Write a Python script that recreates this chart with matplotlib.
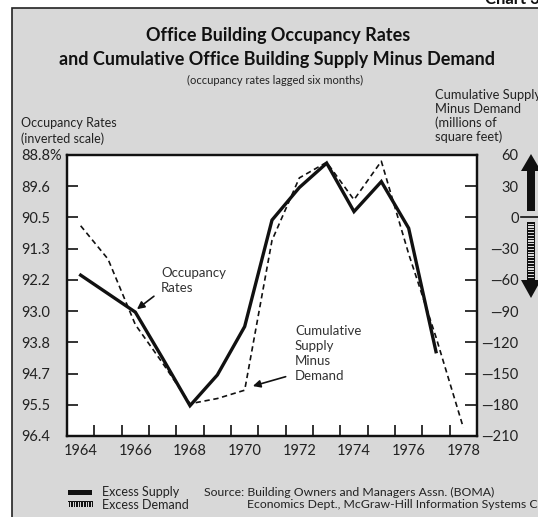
import matplotlib
matplotlib.use('Agg')
import matplotlib.pyplot as plt
import matplotlib.transforms as mtransforms
from matplotlib.patches import Rectangle, Polygon
import numpy as np

# ---------------- data ----------------
years_occ = [1964, 1965, 1966, 1967, 1968, 1969, 1970, 1971, 1972, 1973, 1974, 1975, 1976, 1977]
occupancy = [92.05, 92.55, 93.05, 94.3, 95.58, 94.75, 93.44, 90.56, 89.68, 89.02, 90.33, 89.52, 90.78, 94.12]

years_sd = [1964, 1965, 1966, 1967, 1968, 1969, 1970, 1971, 1972, 1973, 1974, 1975, 1976, 1977, 1978]
supply_minus_demand = [-8, -40, -103, -140, -179, -174, -166, -22, 38, 53, 17, 54, -35, -115, -202]

left_tick_labels = ['88.8%', '89.6', '90.5', '91.3', '92.2', '93.0', '93.8', '94.7', '95.5', '96.4']
right_ticks = [60, 30, 0, -30, -60, -90, -120, -150, -180, -210]
x_labels = ['1964', '1966', '1968', '1970', '1972', '1974', '1976', '1978']
x_label_years = [1964, 1966, 1968, 1970, 1972, 1974, 1976, 1978]

FONT = 'Lato'
TXT = '#222222'
W, H = 538, 517
fig = plt.figure(figsize=(W / 100, H / 100), dpi=100)
fig.patch.set_facecolor('white')

# background / frame in pixel coordinates
bg = fig.add_axes([0, 0, 1, 1], zorder=0)
bg.set_xlim(0, W)
bg.set_ylim(H, 0)
bg.axis('off')
bg.add_patch(Rectangle((12, 8), W, H, facecolor='#d8d8d8', edgecolor='#222222', lw=1.2))

# titles
bg.text(278, 36, 'Office Building Occupancy Rates', ha='center', va='center',
        fontsize=13, fontweight='bold', family=FONT, color='#111111')
bg.text(277, 59, 'and Cumulative Office Building Supply Minus Demand', ha='center', va='center',
        fontsize=13, fontweight='bold', family=FONT, color='#111111')
bg.text(275, 80, '(occupancy rates lagged six months)', ha='center', va='center',
        fontsize=8, family=FONT, color=TXT)
bg.text(485, 4, 'Chart 3', ha='left', va='baseline', fontsize=12, fontweight='bold',
        family=FONT, color='#111111')

# axis titles
bg.text(21, 123, 'Occupancy Rates', ha='left', va='center', fontsize=9, family=FONT, color=TXT)
bg.text(21, 139, '(inverted scale)', ha='left', va='center', fontsize=9, family=FONT, color=TXT)
for i, t in enumerate(['Cumulative Supply', 'Minus Demand', '(millions of', 'square feet)']):
    bg.text(435, 95 + i * 14, t, ha='left', va='center', fontsize=9.3, family=FONT, color=TXT)

# legend at the bottom
bg.add_patch(Rectangle((68, 489.5), 24, 5, facecolor='#111111', edgecolor='none'))
bg.add_patch(Rectangle((68, 500.5), 24, 1.8, facecolor='#111111', edgecolor='none'))
for xx in np.arange(68.5, 92, 2.6):
    bg.add_patch(Rectangle((xx, 500.5), 1.5, 6.5, facecolor='#111111', edgecolor='none'))
bg.text(102, 492, 'Excess Supply', ha='left', va='center', fontsize=9, family=FONT, color=TXT)
bg.text(102, 505, 'Excess Demand', ha='left', va='center', fontsize=9, family=FONT, color=TXT)
bg.text(204, 492, 'Source: Building Owners and Managers Assn. (BOMA)', ha='left', va='center',
        fontsize=8.8, family=FONT, color=TXT)
bg.text(247, 505, 'Economics Dept., McGraw-Hill Information Systems Co', ha='left', va='center',
        fontsize=8.8, family=FONT, color=TXT)

# right side arrows
bg.add_patch(Rectangle((527, 169), 8, 42, facecolor='#111111', edgecolor='none'))
bg.add_patch(Polygon([(521, 171), (541, 171), (531, 154)], closed=True, facecolor='#111111', edgecolor='none'))
bg.add_patch(Rectangle((527, 222), 1.3, 58, facecolor='#111111', edgecolor='none'))
bg.add_patch(Rectangle((534, 222), 1.3, 58, facecolor='#111111', edgecolor='none'))
for yy in np.arange(222, 280, 2.8):
    bg.add_patch(Rectangle((527, yy), 8, 1.5, facecolor='#111111', edgecolor='none'))
bg.add_patch(Polygon([(521, 280), (541, 280), (531, 298)], closed=True, facecolor='#111111', edgecolor='none'))

# ---------------- main axes ----------------
ax = fig.add_axes([67 / W, 1 - 436 / H, 410 / W, 281 / H], zorder=2)
ax.set_facecolor('white')
ax.set_xlim(1963.5, 1978.5)
ax.set_ylim(96.4, 88.8)
ax.plot(years_occ, occupancy, color='#111111', lw=2.4, solid_joinstyle='miter', zorder=3)

ax.set_yticks(np.linspace(88.8, 96.4, 10))
ax.set_yticklabels(left_tick_labels, family=FONT, fontsize=10.5, color=TXT)
for lbl in ax.get_yticklabels():
    lbl.set_horizontalalignment('left')
ax.tick_params(axis='y', direction='in', length=8, width=1.2, pad=33, color='#111111')

ax.set_xticks(np.arange(1964.5, 1978.5, 1.0))
ax.set_xticklabels([])
ax.set_xticks(x_label_years, minor=True)
ax.set_xticklabels(x_labels, minor=True, family=FONT, fontsize=10.5, color=TXT)
ax.tick_params(axis='x', which='major', direction='in', length=8, width=1.2, color='#111111')
ax.tick_params(axis='x', which='minor', length=0, pad=6)

for s in ax.spines.values():
    s.set_linewidth(1.6)
    s.set_color('#111111')

ax2 = ax.twinx()
ax2.set_ylim(-210, 60)
ax2.plot(years_sd, supply_minus_demand, color='#111111', lw=1.2, dashes=(3.2, 2.2), zorder=3)
ax2.set_yticks(right_ticks)
ax2.set_yticklabels([('\u2014' + str(-v)) if v < 0 else str(v) for v in right_ticks],
                    family=FONT, fontsize=10.5, color=TXT)
for lbl in ax2.get_yticklabels():
    lbl.set_horizontalalignment('right')
ax2.tick_params(axis='y', direction='in', length=9, width=1.2, pad=30, color='#111111')
for s in ax2.spines.values():
    s.set_linewidth(1.6)
    s.set_color('#111111')

# zero line extension to the arrows
blend = mtransforms.blended_transform_factory(fig.transFigure, ax2.transData)
ax2.plot([521 / W, 1.0], [0, 0], transform=blend, color='#111111', lw=1.2, clip_on=False)

# annotations
ax.text(1966.94, 92.2, 'Occupancy\nRates', ha='left', va='center', fontsize=9.5,
        family=FONT, color='#333333', linespacing=1.3)
ax.annotate('', xy=(1966.06, 92.97), xytext=(1966.68, 92.62),
            arrowprops=dict(arrowstyle='-|>', color='#111111', lw=1.2, mutation_scale=11,
                            shrinkA=0, shrinkB=0))
ax2.text(1971.84, -131, 'Cumulative\nSupply\nMinus\nDemand', ha='left', va='center', fontsize=9.5,
         family=FONT, color='#333333', linespacing=1.3)
ax2.annotate('', xy=(1970.3, -162), xytext=(1971.5, -153),
             arrowprops=dict(arrowstyle='-|>', color='#111111', lw=1.2, mutation_scale=11,
                             shrinkA=0, shrinkB=0))

fig.savefig('out.png', dpi=100, facecolor=fig.get_facecolor())
